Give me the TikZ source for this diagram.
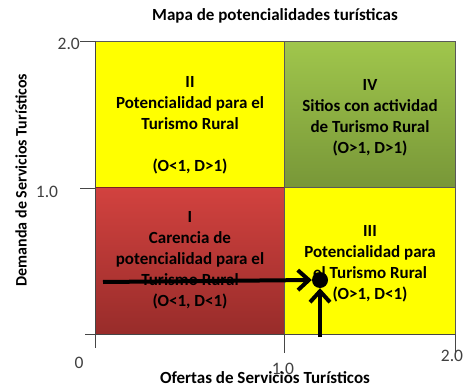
\documentclass[tikz,border=0pt]{standalone}
\usepackage{fontspec}
\setmainfont{Carlito}
\usetikzlibrary{arrows.meta}
\definecolor{qyellow}{RGB}{255,255,0}
\definecolor{redtop}{RGB}{210,66,63}
\definecolor{redbot}{RGB}{152,44,42}
\definecolor{greentop}{RGB}{160,198,76}
\definecolor{greenbot}{RGB}{120,151,56}
\definecolor{axisgray}{RGB}{70,70,70}
\definecolor{ticktext}{RGB}{64,64,64}
\begin{document}
\begin{tikzpicture}[x=1pt,y=-1pt,
  quad/.style={draw=black!65, line width=0.6pt, inner sep=0pt, anchor=north west},
  qtext/.style={align=center, font=\bfseries\fontsize{17}{21}\selectfont, text=black},
  axisline/.style={draw=axisgray, line width=0.7pt},
  ticklab/.style={font=\fontsize{17.5}{20}\selectfont, text=ticktext, inner sep=0pt},
  axtitle/.style={font=\bfseries\fontsize{17}{20}\selectfont, inner sep=0pt},
  arr/.style={line width=4pt, -{Straight Barb[length=11pt,width=20pt]}}]
\useasboundingbox (0,0) rectangle (465,387);
\fill[white] (0,0) rectangle (465,387);

% quadrants
\node[quad, fill=qyellow, minimum width=189pt, minimum height=146pt] (q2) at (95,41) {};
\node[quad, top color=greentop, bottom color=greenbot, minimum width=171pt, minimum height=146pt] (q4) at (284,41) {};
\node[quad, top color=redtop, bottom color=redbot, draw=redbot!80!black, minimum width=189pt, minimum height=147pt] (q1) at (95,187) {};
\node[quad, fill=qyellow, minimum width=171pt, minimum height=147pt] (q3) at (284,187) {};

% texts
\node[qtext] (t2) at (190,125) {II\\Potencialidad para el\\Turismo Rural\\[21pt](O<1, D>1)};
\node[qtext] (t4) at (370,118) {IV\\Sitios con actividad\\de Turismo Rural\\(O>1, D>1)};
\node[qtext] (t1) at (190,260.5) {I\\Carencia de\\potencialidad para el\\Turismo Rural\\(O<1, D<1)};
\node[qtext] (t3) at (370,263.5) {III\\Potencialidad para\\el Turismo Rural\\(O>1, D<1)};

% axes
\coordinate (ytop) at (95,41);
\coordinate (ybot) at (95,348);
\coordinate (xl) at (85,334);
\coordinate (xr) at (455,334);
\draw[axisline] (ytop) -- (ybot);
\draw[axisline] (xl) -- (xr);
\draw[axisline] (80,41) -- (95,41);
\draw[axisline] (80,188) -- (95,188);
\draw[axisline] (284,334) -- (284,353);
\draw[axisline] (455,334) -- (455,353);

% tick labels
\node[ticklab, anchor=east] (y2) at (80,44) {2.0};
\node[ticklab] (y1) at (47,192) {1.0};
\node[ticklab] (o) at (79,363) {0};
\node[ticklab] (x1) at (283,369) {1.0};
\node[ticklab] (x2) at (452,356) {2.0};

% titles
\node[axtitle] (title) at (275,16) {Mapa de potencialidades turísticas};
\node[axtitle] (xt) at (265,377.5) {Ofertas de Servicios Turísticos};
\node[axtitle, rotate=90, font=\bfseries\fontsize{16}{19}\selectfont] (yt) at (21,180) {Demanda de Servicios Turísticos};

% point and arrows
\node[circle, fill=black, inner sep=0pt, minimum size=16pt] (dot) at (320,280) {};
\coordinate (hs) at (103,282);
\coordinate (vs) at (320,337);
\draw[arr] (hs) -- (dot.west);
\draw[arr] (vs) -- (dot.south);
\end{tikzpicture}
\end{document}
